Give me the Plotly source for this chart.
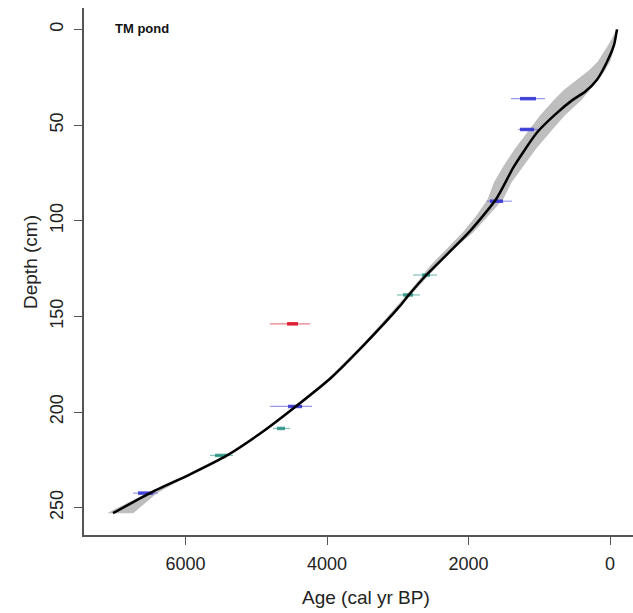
import plotly.graph_objects as go

# ---- age-depth model (median curve) ----
curve_depth = [0, 8.1, 16.9, 26.3, 32.6, 36.7, 44.5, 53.9, 71.6, 88.8, 106, 123.7, 128.9,
               139.3, 144.5, 165.4, 182.6, 196.6, 210.2, 222.7, 232.6, 242.4, 252.9]
curve_age = [-99, -57, 42, 184, 353, 523, 777, 1032, 1357, 1611, 1993, 2470, 2610,
             2855, 2968, 3491, 3958, 4424, 4905, 5413, 5936, 6502, 7025]

# ---- uncertainty envelope ----
band_depth = [0, 4, 8.1, 12.5, 16.9, 21.5, 26.3, 31.5, 36.7, 45, 53.9, 62.7, 71.6, 79.9,
              88.8, 97.4, 106, 115, 123.7, 128.9, 139.3, 165.4, 182.6, 196.6, 210.2,
              222.7, 232.6, 242.4, 248, 252.9]
band_old = [-88, -40, 25, 95, 175, 300, 470, 650, 790, 990, 1170, 1350, 1510, 1640,
            1730, 1890, 2080, 2310, 2545, 2655, 2885, 3515, 3985, 4450, 4930,
            5440, 5975, 6545, 6850, 7110]
band_young = [-108, -90, -70, -40, 0, 70, 165, 280, 400, 640, 850, 1050, 1230, 1390,
              1510, 1720, 1930, 2220, 2440, 2570, 2830, 3465, 3930, 4400, 4880,
              5385, 5920, 6400, 6580, 6740]

# ---- calibrated dates ----
date_depth = [36.2, 52.3, 89.8, 128.4, 138.8, 153.9, 197.1, 208.6, 222.7, 242.4]
date_lo = [919, 1018, 1385, 2445, 2685, 4240, 4212, 4523, 5329, 6389]
date_hi = [1399, 1300, 1739, 2784, 3011, 4806, 4806, 4763, 5654, 6742]
peak_lo = [1046, 1074, 1512, 2544, 2784, 4410, 4353, 4594, 5413, 6459]
peak_hi = [1272, 1272, 1696, 2657, 2926, 4565, 4551, 4707, 5583, 6671]
date_type = ["blue", "blue", "blue", "teal", "teal", "red", "blue", "teal", "teal", "blue"]

x_ticks = [0, 2000, 4000, 6000]
y_ticks = [0, 50, 100, 150, 200, 250]

thin_col = {"blue": "rgba(70,70,220,0.55)", "teal": "rgba(30,140,130,0.55)", "red": "rgba(220,40,60,0.6)"}
blob_col = {"blue": "rgba(45,45,210,0.85)", "teal": "rgba(30,140,125,0.8)", "red": "rgba(220,25,45,0.95)"}

fig = go.Figure()

fig.add_trace(go.Scatter(
    x=band_old + band_young[::-1], y=band_depth + band_depth[::-1],
    fill="toself", fillcolor="#bebebe", line=dict(width=0),
    mode="lines", hoverinfo="skip", showlegend=False))

for d, lo, hi, plo, phi, t in zip(date_depth, date_lo, date_hi, peak_lo, peak_hi, date_type):
    fig.add_trace(go.Scatter(x=[lo, hi], y=[d, d], mode="lines",
                             line=dict(color=thin_col[t], width=1.2), showlegend=False))
    fig.add_trace(go.Scatter(x=[plo, phi], y=[d, d], mode="lines",
                             line=dict(color=blob_col[t], width=3.5), showlegend=False))

fig.add_trace(go.Scatter(x=curve_age, y=curve_depth, mode="lines",
                         line=dict(color="black", width=2.5, shape="spline", smoothing=0.6),
                         showlegend=False))

font_family = "Liberation Sans, Arial, sans-serif"

fig.update_layout(
    width=633, height=613,
    margin=dict(l=84, r=0, t=8, b=78),
    plot_bgcolor="white", paper_bgcolor="white",
    font=dict(family=font_family, size=18, color="#222"),
    xaxis=dict(range=[7435, -325], tickvals=x_ticks, ticktext=[str(v) for v in x_ticks],
               showgrid=False, zeroline=False, showline=True, linecolor="#555", linewidth=1.5,
               ticks="outside", ticklen=8, tickwidth=1.3, tickcolor="#555",
               tickfont=dict(size=18, color="#222"), ticklabelstandoff=4),
    yaxis=dict(range=[264.3, -11.2], tickvals=y_ticks, ticktext=[str(v) for v in y_ticks],
               showgrid=False, zeroline=False, showline=True, linecolor="#555", linewidth=1.5,
               ticks="outside", ticklen=8, tickwidth=1.3, tickcolor="#555", tickangle=-90,
               tickfont=dict(size=18, color="#222"), ticklabelstandoff=4),
    annotations=[
        dict(text="<b>TM pond</b>", xref="paper", yref="paper", x=0.0528, y=0.962,
             xanchor="left", yanchor="middle", showarrow=False,
             font=dict(size=13, color="#111", family=font_family)),
        dict(text="Age (cal yr BP)", xref="paper", yref="paper", x=0.5137, y=-0.1195,
             xanchor="center", yanchor="middle", showarrow=False,
             font=dict(size=19, color="#222", family=font_family)),
        dict(text="Depth (cm)", xref="paper", yref="paper", x=-0.0984, y=0.518,
             xanchor="center", yanchor="middle", textangle=-90, showarrow=False,
             font=dict(size=19, color="#222", family=font_family)),
    ],
)

fig.write_html("out.html")
